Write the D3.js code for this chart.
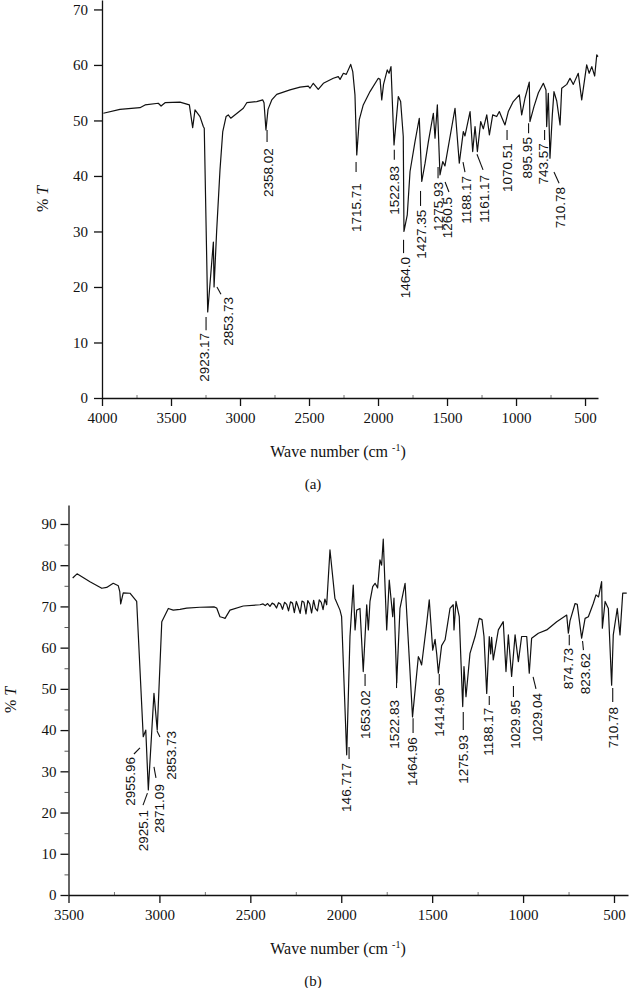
<!DOCTYPE html>
<html>
<head>
<meta charset="utf-8">
<script src="https://cdn.jsdelivr.net/npm/d3@7"></script>
<style>
  body { margin: 0; background: #fff; }
  svg { display: block; }
</style>
</head>
<body>
<script>
// spectrum (a): wave number (cm-1) and %T
var waveA = [3990,3870,3725,3688,3592,3572,3543,3435,3367,3343,
  3326,3290,3266,3259,3234,3193,3188,3169,3145,3125,
  3101,3085,3067,2976,2951,2879,2835,2826,2812,2797,
  2770,2734,2638,2565,2505,2493,2469,2433,2396,2324,
  2288,2275,2251,2230,2198,2183,2167,2154,2136,2107,
  2058,1998,1985,1973,1960,1933,1920,1906,1884,1853,
  1836,1817,1812,1788,1768,1732,1701,1683,1659,1635,
  1599,1587,1570,1551,1531,1515,1442,1411,1382,1370,
  1333,1314,1297,1280,1256,1237,1212,1193,1169,1140,
  1121,1101,1080,1056,1020,976,959,935,904,899,
  870,838,802,783,778,766,754,737,725,705,
  681,669,632,609,585,549,524,488,470,451,
  430,415,406];
var transA = [51.3,52.0,52.3,52.8,53.1,52.6,53.2,53.3,52.8,48.7,
  51.9,50.7,48.9,48.6,15.5,28.1,20.0,30.2,41.1,48.0,
  50.7,51.0,50.4,52.2,53.2,53.4,53.7,53.2,48.3,52.0,
  53.7,54.7,55.5,56.0,56.2,55.8,56.7,55.6,56.7,57.6,
  57.9,57.4,58.5,58.3,60.1,58.8,54.6,43.8,50.1,52.8,
  55.2,57.6,57.4,53.7,56.5,59.1,58.5,59.7,45.6,54.3,
  53.4,47.1,30.0,33.0,40.8,46.2,50.4,39.0,42.3,46.2,
  51.3,46.8,52.8,40.2,42.6,41.8,52.2,42.3,48.0,47.2,
  51.6,44.4,48.9,44.4,49.8,48.5,51.0,47.4,51.0,50.7,
  51.6,50.4,49.2,51.6,53.4,54.6,51.0,54.0,56.9,49.8,
  52.5,55.0,56.7,55.5,48.9,54.9,43.2,51.0,55.2,53.5,
  49.2,55.8,56.5,57.6,56.5,58.5,53.7,60.0,58.5,59.7,
  58.0,61.8,61.5];

// spectrum (b)
var waveB = [3477,3453,3382,3317,3290,3254,3226,3218,3213,3199,
  3162,3125,3089,3075,3061,3030,3012,2987,2951,2924,
  2887,2850,2777,2700,2685,2667,2652,2639,2612,2539,
  2447,2430,2418,2405,2392,2380,2368,2356,2345,2334,
  2323,2312,2300,2290,2279,2268,2258,2247,2236,2226,
  2216,2205,2194,2184,2173,2163,2152,2142,2131,2121,
  2110,2100,2090,2080,2062,2035,2007,1998,1970,1952,
  1934,1924,1915,1897,1879,1860,1851,1842,1827,1814,
  1800,1787,1778,1769,1750,1736,1717,1710,1695,1677,
  1649,1608,1576,1567,1558,1530,1516,1497,1484,1475,
  1466,1448,1429,1416,1402,1384,1380,1369,1351,1332,
  1325,1314,1292,1264,1241,1226,1215,1200,1186,1178,
  1173,1164,1136,1109,1094,1081,1063,1044,1026,1008,
  980,966,953,916,870,815,760,751,742,714,
  702,678,659,641,614,599,585,568,564,549,
  531,513,504,482,467,452,430];
var transB = [76.9,77.9,76.0,74.4,74.6,75.6,75.0,73.6,70.6,73.3,
  73.2,71.2,38.4,40.0,25.5,48.9,40.0,66.3,69.5,69.1,
  69.3,69.6,69.8,69.9,69.6,67.5,67.3,67.1,69.1,70.1,
  70.4,70.6,70.2,70.7,70.0,70.8,70.5,69.6,70.9,70.6,
  69.3,71.0,70.5,68.9,71.1,70.8,68.5,71.2,69.8,68.3,
  71.3,71.0,68.2,71.4,70.6,68.4,71.5,69.5,68.9,71.6,
  71.0,69.2,71.8,70.4,83.7,72.0,69.1,67.5,34.0,62.7,
  75.2,64.3,69.1,69.5,54.2,70.4,64.3,71.2,74.8,75.6,
  74.5,81.3,80.0,86.3,64.3,76.4,67.5,72.0,51.5,69.5,
  75.6,43.2,57.8,57.0,55.8,65.9,71.6,59.4,62.0,58.5,
  53.8,60.5,61.9,65.5,69.5,70.4,64.3,71.2,67.5,45.7,
  55.4,48.1,58.6,62.7,67.1,66.8,62.7,48.9,62.7,58.5,
  62.5,57.0,64.3,66.3,54.2,63.1,53.0,63.1,56.6,62.7,
  62.7,53.8,62.3,63.5,64.3,66.3,67.9,63.5,66.5,70.7,
  70.5,62.3,67.1,67.5,70.7,72.8,72.3,76.0,64.7,71.2,
  69.5,50.9,63.1,69.5,63.1,73.2,73.2];

// peak labels: [text, wave, %T at text end, leader x1, y1, x2, y2]
var peaksA = [
  ["2923.17", 3261, 11.7, 3246, 12.2, 3246, 14.6],
  ["2853.73", 3085, 18.2, 3138, 18.7, 3167, 20.0],
  ["2358.02", 2795, 45.0, 2804, 46.1, 2804, 48.3],
  ["1715.71", 2154, 38.7, 2159, 40.7, 2159, 42.5],
  ["1522.83", 1884, 41.8, 1882, 42.9, 1882, 44.7],
  ["1464.0", 1804, 25.4, 1815, 26.1, 1815, 28.5],
  ["1427.35", 1688, 33.9, 1692, 34.6, 1692, 37.3],
  ["1275.93", 1565, 38.9, 1565, 39.6, 1565, 41.6],
  ["1260.5", 1498, 36.2, 1486, 37.1, 1514, 38.9],
  ["1188.17", 1357, 40.0, 1370, 40.7, 1384, 42.5],
  ["1161.17", 1232, 40.2, 1239, 41.1, 1283, 43.9],
  ["1070.51", 1067, 45.9, 1065, 46.5, 1065, 48.3],
  ["895.95", 922, 47.0, 909, 47.7, 909, 49.5],
  ["743.57", 802, 45.9, 793, 46.5, 793, 48.3],
  ["710.78", 681, 38.0, 688, 38.7, 725, 40.7]
];
var peaksB = [
  ["2955.96", 3159, 33.5, 3140, 34.2, 3107, 35.7],
  ["2925.1", 3089, 20.6, 3090, 21.8, 3066, 24.7],
  ["2871.09", 3001, 26.9, 3019, 28.4, 3030, 31.1],
  ["2853.73", 2936, 39.8, 2997, 38.3, 3013, 39.8],
  ["146.717", 1970, 32.0, 1957, 33.0, 1957, 35.9],
  ["1653.02", 1869, 49.7, 1869, 50.7, 1869, 53.6],
  ["1522.83", 1708, 47.3, 1696, 50.2, 1696, 52.9],
  ["1464.96", 1611, 38.3, 1605, 39.3, 1605, 42.9],
  ["1414.96", 1461, 50.2, 1461, 50.9, 1461, 53.6],
  ["1275.93", 1329, 38.8, 1329, 40.0, 1329, 44.4],
  ["1188.17", 1191, 45.4, 1186, 46.1, 1186, 48.3],
  ["1029.95", 1044, 47.3, 1053, 48.0, 1053, 50.7],
  ["1029.04", 920, 49.0, 929, 50.0, 945, 52.9],
  ["874.73", 751, 59.9, 746, 60.6, 746, 63.1],
  ["823.62", 659, 58.7, 668, 59.4, 673, 61.6],
  ["710.78", 504, 45.6, 507, 46.8, 507, 50.2]
];

var xTicksA = [4000,3500,3000,2500,2000,1500,1000,500];
var yTicksA = [0,10,20,30,40,50,60,70];
var xTicksB = [3500,3000,2500,2000,1500,1000,500];
var yTicksB = [0,10,20,30,40,50,60,70,80,90];

var serif = "'Liberation Serif', 'Times New Roman', serif";
var sans = "'Liberation Sans', Arial, sans-serif";

var svg = d3.select("body").append("svg")
  .attr("width", 630)
  .attr("height", 988);

function drawPanel(p) {
  var x = d3.scaleLinear().domain(p.xDomain).range([p.left, p.right]);
  var y = d3.scaleLinear().domain(p.yDomain).range([p.bottom, p.top]);
  var g = svg.append("g");

  // minor ticks
  g.append("g")
    .attr("transform", "translate(0," + p.bottom + ")")
    .call(d3.axisBottom(x).tickValues(p.xMinor).tickSize(-3).tickFormat(""))
    .call(s => s.select(".domain").remove())
    .selectAll("line").attr("stroke", "#777");
  if (p.yMinor) {
    g.append("g")
      .attr("transform", "translate(" + p.left + ",0)")
      .call(d3.axisLeft(y).tickValues(p.yMinor).tickSize(4).tickFormat(""))
      .call(s => s.select(".domain").remove())
      .selectAll("line").attr("stroke", "#555");
  }

  // x axis
  var xa = g.append("g")
    .attr("transform", "translate(0," + p.bottom + ")")
    .call(d3.axisBottom(x).tickValues(p.xTicks).tickFormat(d3.format("d"))
      .tickSize(8).tickSizeOuter(0).tickPadding(6));
  // y axis
  var ya = g.append("g")
    .attr("transform", "translate(" + p.left + ",0)")
    .call(d3.axisLeft(y).tickValues(p.yTicks).tickFormat(d3.format("d"))
      .tickSize(8).tickSizeOuter(0).tickPadding(p.yPad));

  [xa, ya].forEach(function(a) {
    a.selectAll("path, line").attr("stroke", "#111").attr("stroke-width", 1.3);
    a.selectAll("text").attr("font-family", serif).attr("font-size", 15).attr("fill", "#111");
  });

  // spectrum
  var line = d3.line().x(d => x(d[0])).y(d => y(d[1]));
  g.append("path")
    .datum(d3.zip(p.wave, p.trans))
    .attr("d", line)
    .attr("fill", "none")
    .attr("stroke", "#111")
    .attr("stroke-width", 1.2)
    .attr("stroke-linejoin", "round");

  // peak labels
  var lab = g.selectAll(".peak").data(p.peaks).enter().append("g");
  lab.append("line")
    .attr("x1", d => x(d[3])).attr("y1", d => y(d[4]))
    .attr("x2", d => x(d[5])).attr("y2", d => y(d[6]))
    .attr("stroke", "#111").attr("stroke-width", 1.1);
  lab.append("text")
    .attr("transform", d => "translate(" + x(d[1]) + "," + y(d[2]) + ") rotate(-90)")
    .attr("text-anchor", "end")
    .attr("dy", "0.35em")
    .attr("font-family", sans)
    .attr("font-size", 13.5)
    .attr("fill", "#111")
    .text(d => d[0]);

  // axis title
  var t = g.append("text")
    .attr("x", 338).attr("y", p.bottom + 59)
    .attr("text-anchor", "middle")
    .attr("font-family", serif).attr("font-size", 16).attr("fill", "#111");
  t.append("tspan").text("Wave number (cm ");
  t.append("tspan").attr("font-size", 10).attr("dy", -6).text("-1");
  t.append("tspan").attr("dy", 6).text(")");

  var yt = g.append("text")
    .attr("transform", "translate(" + p.yTitleX + "," + ((p.top + p.bottom) / 2) + ") rotate(-90)")
    .attr("text-anchor", "middle")
    .attr("dy", "0.35em")
    .attr("font-family", serif).attr("font-size", 16).attr("fill", "#111");
  yt.append("tspan").text("% ");
  yt.append("tspan").attr("font-style", "italic").text("T");

  g.append("text")
    .attr("x", 313).attr("y", p.bottom + 91)
    .attr("text-anchor", "middle")
    .attr("font-family", serif).attr("font-size", 15).attr("fill", "#111")
    .text(p.letter);
}

drawPanel({
  wave: waveA, trans: transA, peaks: peaksA,
  xDomain: [4000, 406], yDomain: [0, 71.7],
  left: 102, right: 598, top: 0, bottom: 398,
  xTicks: xTicksA, yTicks: yTicksA,
  xMinor: [3750,3250,2750,2250,1750,1250,750],
  yMinor: null, yPad: 6, yTitleX: 42, letter: "(a)"
});

drawPanel({
  wave: waveB, trans: transB, peaks: peaksB,
  xDomain: [3500, 423], yDomain: [0, 94.6],
  left: 68.5, right: 628, top: 505, bottom: 895,
  xTicks: xTicksB, yTicks: yTicksB,
  xMinor: [3250,2750,2250,1750,1250,750],
  yMinor: [5,15,25,35,45,55,65,75,85], yPad: 4, yTitleX: 10, letter: "(b)"
});
</script>
</body>
</html>
